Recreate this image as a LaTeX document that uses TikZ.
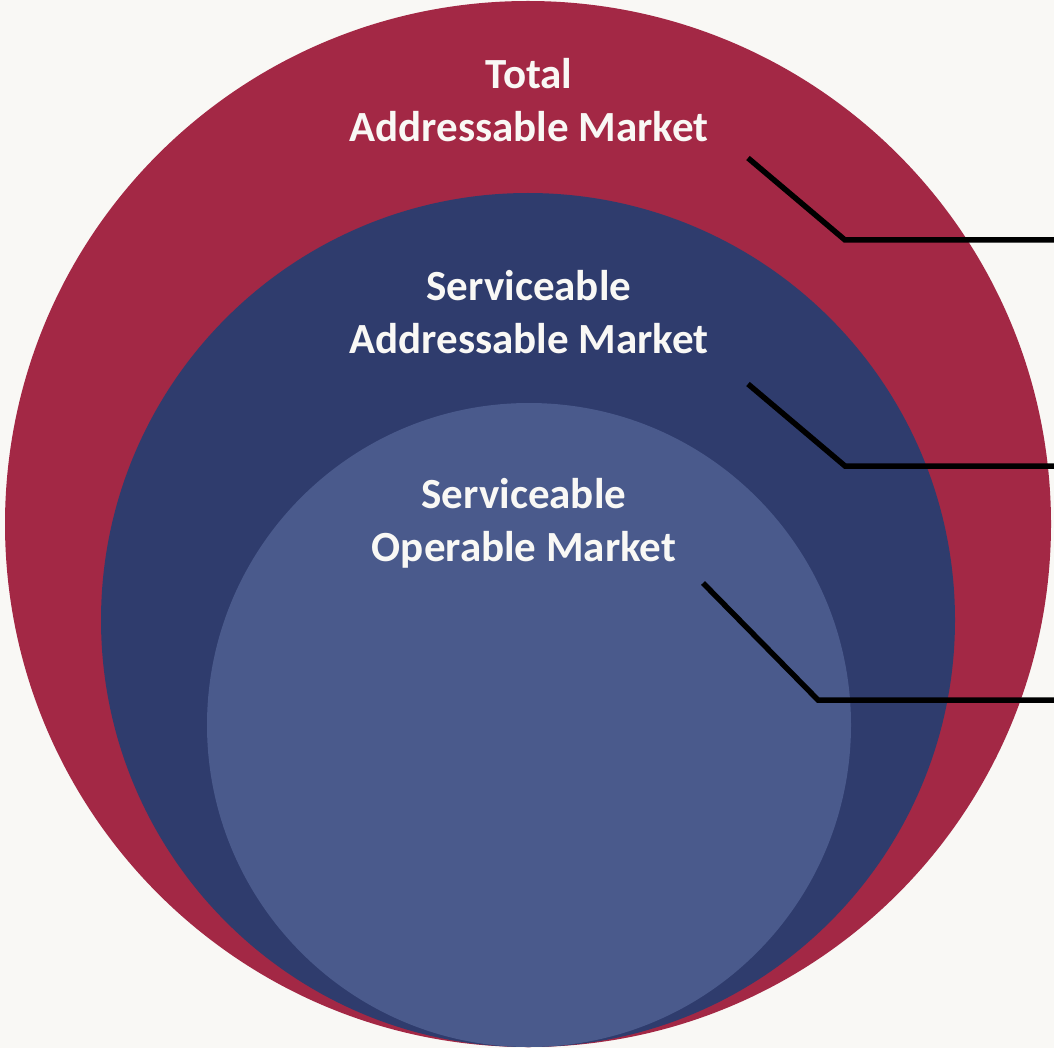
\documentclass[tikz,border=0pt]{standalone}
\usepackage{fontspec}
\setmainfont{Carlito}
\usepackage{tikz}

\definecolor{paper}{HTML}{F9F8F5}
\definecolor{tamred}{HTML}{A32845}
\definecolor{samblue}{HTML}{2F3C6D}
\definecolor{somblue}{HTML}{4A5A8C}

\tikzset{
  label/.style={align=center, text=paper, font=\fontsize{43}{53}\selectfont\bfseries},
  leader/.style={line width=5.5pt, black}
}

\begin{document}
\begin{tikzpicture}[x=1pt,y=-1pt]
    % Hintergrund
    \fill[paper] (0,0) rectangle (1054,1048);
    \useasboundingbox (0,0) rectangle (1054,1048);

    % drei Kreise, unten beruehrend
    \fill[tamred] (528,524) circle (523);
    \fill[samblue] (528,620) circle (427);
    \fill[somblue] (529,725) circle (322);

    % Beschriftungen
    \node[label] (tam) at (529,100) {Total\\Addressable Market};
    \node[label] (sam) at (529,312) {Serviceable\\Addressable Market};
    \node[label] (som) at (524,523) {Serviceable\\Operable Market};

    % Hinweislinien nach rechts
    \coordinate (t1) at (748,158);
    \coordinate (t2) at (845,240);
    \coordinate (t3) at (1054,240);
    \coordinate (s1) at (748,384);
    \coordinate (s2) at (845,466);
    \coordinate (s3) at (1054,466);
    \coordinate (o1) at (703,583);
    \coordinate (o2) at (818,700);
    \coordinate (o3) at (1054,700);
    \draw[leader] (t1) -- (t2) -- (t3);
    \draw[leader] (s1) -- (s2) -- (s3);
    \draw[leader] (o1) -- (o2) -- (o3);
\end{tikzpicture}
\end{document}
